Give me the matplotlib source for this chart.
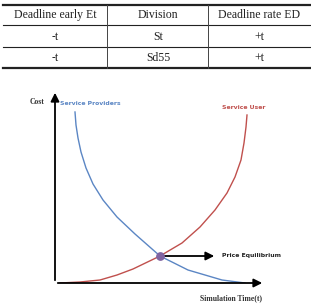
import numpy as np
import matplotlib
matplotlib.use("Agg")
import matplotlib.pyplot as plt

# table contents
headers = ["Deadline early Et", "Division", "Deadline rate ED"]
rows = [["-t", "St", "+t"],
        ["-t", "Sd55", "+t"]]

# curves (time, cost)
provider_t = [20, 21, 23, 26, 31, 38, 48, 62, 80, 105, 133, 150, 167, 190]
provider_cost = [171, 158, 145, 131, 115, 99, 83, 66, 49, 27, 13, 8, 3, 0]
user_t = [5, 25, 45, 62, 78, 105, 127, 145, 160, 172, 180, 186, 189, 191, 192]
user_cost = [0, 1, 3, 8, 14, 27, 40, 56, 73, 90, 106, 123, 140, 156, 168]
equilibrium = (105, 27)

W, H = 311, 306
fig = plt.figure(figsize=(W / 100, H / 100), dpi=100)

# ---- table drawn in pixel space
tab = fig.add_axes([0, 0, 1, 1])
tab.set_xlim(0, W)
tab.set_ylim(H, 0)
tab.axis("off")
serif = "Liberation Serif"
line_y = [5, 25, 46.7, 68.3]
text_y = [15, 36.7, 58.3]
col_x = [55, 158, 259]
for i, y in enumerate(line_y):
    lw = 1.6 if i in (0, 3) else 0.8
    tab.plot([3, W], [y, y], color="#222222", lw=lw)
for x in [107, 208]:
    tab.plot([x, x], [line_y[0], line_y[3]], color="#444444", lw=0.7)
for cx, h in zip(col_x, headers):
    tab.text(cx, text_y[0], h, ha="center", va="center", family=serif, fontsize=8.5, color="#222222")
for r, row in enumerate(rows):
    for cx, v in zip(col_x, row):
        tab.text(cx, text_y[r + 1], v, ha="center", va="center", family=serif, fontsize=8.5, color="#222222")

# ---- cost chart
ax = fig.add_axes([55 / W, (H - 283) / H, 210 / W, 193 / H])
ax.set_xlim(0, 210)
ax.set_ylim(0, 193)
ax.axis("off")
blue = "#5b86c4"
red = "#c0504d"
ax.plot(provider_t, provider_cost, color=blue, lw=1.0, solid_joinstyle="round")
ax.plot(user_t, user_cost, color=red, lw=1.0, solid_joinstyle="round")
arrow = dict(arrowstyle="-|>,head_length=0.5,head_width=0.25", color="black", lw=1.3)
ax.annotate("", xy=(210, 0), xytext=(0, 0), arrowprops=arrow)
ax.annotate("", xy=(0, 193), xytext=(0, 0), arrowprops=arrow)
ax.annotate("", xy=(162, equilibrium[1]), xytext=equilibrium, arrowprops=arrow)
ax.scatter([equilibrium[0]], [equilibrium[1]], s=28, color="#8064a2", zorder=5)

sans = "DejaVu Sans"
ax.text(167, equilibrium[1], "Price Equilibrium", ha="left", va="center", family=sans,
        fontsize=4.4, fontweight="bold", color="#222222", clip_on=False)
ax.text(5, 180, "Service Providers", ha="left", va="center", family=sans,
        fontsize=4.4, fontweight="bold", color=blue, clip_on=False)
ax.text(167, 176, "Service User", ha="left", va="center", family=sans,
        fontsize=4.4, fontweight="bold", color=red, clip_on=False)
ax.text(-25, 181, "Cost", ha="left", va="center", family=serif,
        fontsize=5.5, fontweight="bold", color="#333333", clip_on=False)
ax.text(145, -15, "Simulation Time(t)", ha="left", va="center", family=serif,
        fontsize=5.5, fontweight="bold", color="#333333", clip_on=False)

fig.savefig("out.png", dpi=100)
